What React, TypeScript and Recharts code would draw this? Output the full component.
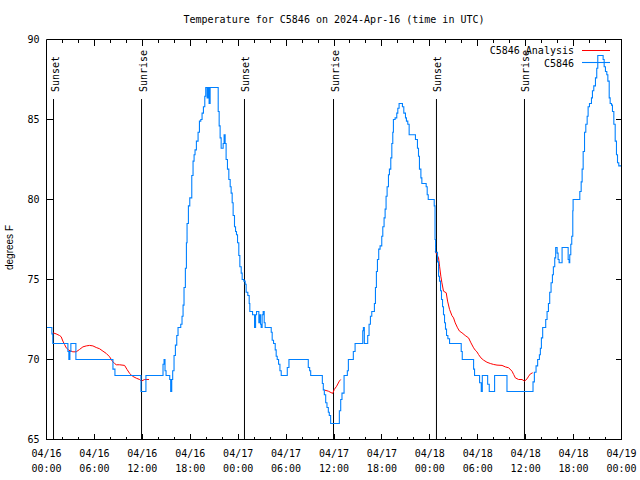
import React from 'react';
import { LineChart, Line, XAxis, YAxis, ReferenceLine } from 'recharts';

const MONO = '"DejaVu Sans Mono", "Liberation Mono", monospace';
const SANS = '"Liberation Sans", Arial, sans-serif';
const BLUE = '#0080ff';
const RED = '#ff0000';

const TITLE = 'Temperature for C5846 on 2024-Apr-16 (time in UTC)';
const Y_LABEL = 'degrees F';
const SERIES_NAMES = ['C5846 Analysis', 'C5846'];

// hours since 04/16 00:00 UTC
const xTickHours = [0, 2, 4, 6, 8, 10, 12, 14, 16, 18, 20, 22, 24, 26, 28, 30, 32, 34, 36, 38, 40, 42, 44, 46, 48, 50, 52, 54, 56, 58, 60, 62, 64, 66, 68, 70, 72];
const xLabelDates = ['04/16', '04/16', '04/16', '04/16', '04/17', '04/17', '04/17', '04/17', '04/18', '04/18', '04/18', '04/18', '04/19'];
const xLabelTimes = ['00:00', '06:00', '12:00', '18:00', '00:00', '06:00', '12:00', '18:00', '00:00', '06:00', '12:00', '18:00', '00:00'];
const yTicks = [65, 70, 75, 80, 85, 90];

const sunHours = [0.88, 11.9, 24.79, 35.94, 48.83, 59.85];
const sunLabels = ['Sunset', 'Sunrise', 'Sunset', 'Sunrise', 'Sunset', 'Sunrise'];

// C5846 observations [hour, degF]
const observed: [number, number][] = [
  [0, 72], [0.67, 71.6], [0.79, 71], [2.68, 70.5], [2.8, 70], [2.93, 70.5], [3.05, 71], [3.68, 70],
  [8.32, 69.4], [8.57, 69], [11.83, 68], [12.45, 69],
  [14.59, 69.7], [14.72, 70], [14.84, 69.3], [14.97, 69], [15.43, 68.75], [15.55, 68], [15.68, 68.75], [15.8, 69.3],
  [15.97, 70.25], [16.14, 70.9], [16.31, 71.5], [16.47, 72], [16.81, 72.2], [16.97, 72.7], [17.1, 73.4], [17.22, 74.5],
  [17.39, 75.7], [17.52, 77.3], [17.6, 78.5], [17.77, 79.6], [17.94, 80.1], [18.19, 81.5], [18.35, 82.4], [18.48, 82.8],
  [18.6, 83.1], [18.77, 83.65], [18.98, 84.2], [19.15, 84.9], [19.32, 85], [19.48, 85.4], [19.65, 85.8], [19.82, 86.45],
  [19.94, 87], [20.11, 86.35], [20.24, 87], [20.36, 86], [20.49, 87], [21.5, 85.5], [21.62, 84.6], [21.74, 83.85],
  [21.87, 83.2], [22.12, 83.5], [22.24, 84.05], [22.37, 83.5], [22.49, 82.5], [22.66, 81.9], [22.83, 81.25], [23.0, 80.8],
  [23.12, 80.4], [23.25, 79.8], [23.37, 79], [23.54, 78.3], [23.67, 78], [23.79, 77.8], [23.92, 77.3], [24.08, 76.5],
  [24.21, 75.8], [24.38, 75.4], [24.5, 75], [24.71, 74.9], [24.88, 74.7], [25.0, 74.2], [25.21, 74], [25.38, 73.5],
  [25.46, 73], [25.8, 72.8], [26.05, 72], [26.18, 72.8], [26.3, 73], [26.59, 72.3], [26.72, 72.8], [26.8, 72.2],
  [26.88, 72], [27.0, 72.8], [27.13, 73], [27.26, 72.3], [27.38, 72], [28.14, 71.7], [28.26, 71.2], [28.43, 71],
  [28.64, 70.6], [28.76, 70.2], [28.89, 70], [29.06, 69.7], [29.23, 69.3], [29.39, 69], [30.15, 69.5], [30.36, 70],
  [32.78, 69.5], [32.95, 69.3], [33.08, 69], [34.54, 68.5], [34.66, 68.1], [34.79, 67.8], [34.96, 67.3], [35.12, 67],
  [35.29, 66.7], [35.41, 66.5], [35.58, 66], [36.67, 66.8], [36.84, 67.5], [37.0, 67.9], [37.26, 69], [37.67, 69.3],
  [37.8, 70], [38.42, 70.5], [38.64, 71], [39.6, 71.8], [39.68, 72], [39.8, 71], [40.22, 71.5], [40.39, 72.2],
  [40.56, 72.7], [40.73, 73], [41.06, 73.5], [41.19, 74.5], [41.31, 75.5], [41.44, 76.25], [41.6, 76.9], [41.77, 77.1],
  [41.98, 77.7], [42.11, 78.3], [42.27, 78.85], [42.4, 79.4], [42.52, 80.2], [42.65, 80.8], [42.82, 81.55], [42.94, 81.9],
  [43.11, 82.6], [43.24, 83.5], [43.36, 84.2], [43.44, 85], [43.65, 85.1], [43.86, 85.4], [43.99, 85.7], [44.15, 86],
  [44.57, 85.8], [44.74, 85.4], [44.95, 85.1], [45.07, 84.9], [45.24, 84.7], [45.41, 84.05], [46.2, 83.75], [46.45, 83.2],
  [46.58, 82.7], [46.7, 81.9], [46.88, 81.35], [47.0, 81], [47.54, 80.8], [47.67, 80.3], [47.8, 80], [48.55, 79.6],
  [48.65, 77.5], [48.72, 76.7], [48.96, 76.1], [49.09, 75.2], [49.21, 74.9], [49.34, 74.3], [49.46, 73.75], [49.59, 73.3],
  [49.71, 72.8], [49.84, 72.3], [49.96, 71.9], [50.09, 71.5], [50.26, 71.3], [50.47, 71], [51.93, 70.5], [52.06, 70],
  [53.48, 69.4], [53.6, 69], [54.23, 68.55], [54.44, 68], [54.57, 69], [55.24, 68.45], [55.44, 68], [56.11, 69],
  [57.66, 68], [60.92, 68.6], [61.09, 69.2], [61.3, 69.6], [61.5, 70], [61.72, 70.3], [61.84, 70.7], [61.97, 71.35],
  [62.13, 72], [62.51, 72.5], [62.68, 73], [62.85, 73.5], [63.01, 74.2], [63.18, 74.8], [63.35, 75.3], [63.47, 75.8],
  [63.64, 76.35], [63.76, 77], [63.94, 76.65], [64.06, 76.25], [64.19, 76.05], [64.56, 77], [65.32, 76.25], [65.44, 76.05],
  [65.52, 76.55], [65.65, 77.2], [65.77, 77.7], [65.9, 79.3], [65.94, 80], [66.78, 80.5], [66.95, 81.1], [67.07, 81.9],
  [67.2, 83], [67.37, 84.2], [67.53, 84.7], [67.7, 85.2], [67.82, 85.8], [67.99, 86], [68.24, 86.35], [68.36, 86.8],
  [68.53, 87.1], [68.74, 87.6], [68.9, 88.2], [69.03, 89], [69.7, 88.75], [69.83, 88.3], [69.99, 88], [70.16, 87.8],
  [70.29, 87.4], [70.46, 86.35], [70.58, 86], [70.75, 85.9], [70.87, 85.5], [71.04, 84.7], [71.21, 83.65], [71.37, 82.8],
  [71.5, 82.3], [71.66, 82.1], [71.95, 82.1],
];

// C5846 Analysis, night segments [hour, degF]
const analysisNight1: [number, number][] = [
  [0.79, 71.67], [1.21, 71.6], [1.63, 71.5], [1.84, 71.42], [2.05, 71.15], [2.26, 70.94], [2.47, 70.73], [2.8, 70.58],
  [3.3, 70.48], [3.72, 70.48], [4.14, 70.63], [4.56, 70.79], [4.98, 70.85], [5.39, 70.88], [5.81, 70.85], [6.23, 70.75],
  [6.65, 70.67], [7.07, 70.52], [7.48, 70.38], [7.9, 70.17], [8.24, 69.9], [8.53, 69.75], [8.74, 69.67], [9.16, 69.67],
  [9.78, 69.63], [10.08, 69.38], [10.41, 69.13], [10.75, 68.96], [11.25, 68.83], [11.67, 68.75], [11.87, 68.65],
  [12.29, 68.75], [12.84, 68.75],
];
const analysisNight2: [number, number][] = [
  [34.87, 68.08], [35.29, 68.02], [35.83, 67.88], [36.04, 68.13], [36.33, 68.33], [36.67, 68.65], [36.84, 68.75],
];
const analysisNight3: [number, number][] = [
  [48.67, 76.77], [48.88, 76.56], [49.09, 76.35], [49.22, 75.83], [49.38, 75.2], [49.51, 74.8], [49.71, 74.27],
  [50.05, 74.17], [50.22, 73.65], [50.47, 73.13], [50.76, 72.75], [50.97, 72.6], [51.18, 72.29], [51.47, 71.98],
  [51.72, 71.77], [52.02, 71.67], [52.43, 71.5], [52.85, 71.35], [53.15, 71.04], [53.48, 70.73], [53.69, 70.58],
  [53.9, 70.48], [54.1, 70.31], [54.4, 70.1], [54.73, 69.96], [55.15, 69.83], [55.57, 69.75], [55.99, 69.69],
  [56.41, 69.65], [57.04, 69.63], [57.45, 69.54], [57.87, 69.48], [58.29, 69.27], [58.5, 69.06], [58.71, 68.85],
  [59.12, 68.75], [59.54, 68.75], [59.87, 68.65], [60.17, 68.79], [60.38, 68.96], [60.59, 69.1], [60.88, 69.17],
];

const toRows = (pts: [number, number][]) => pts.map(([h, t]) => ({ h, t }));

const BottomTick = (props: any) => {
  const { x, y, payload } = props;
  const h = payload.value as number;
  const major = h % 6 === 0;
  const i = h / 6;
  return (
    <g>
      <line x1={x} x2={x} y1={y} y2={y - (major ? 6 : 3)} stroke="#000" shapeRendering="crispEdges" />
      {major && (
        <>
          <text x={x} y={y + 17.5} textAnchor="middle" fontFamily={MONO} fontSize={10} fill="#000">{xLabelDates[i]}</text>
          <text x={x} y={y + 32.5} textAnchor="middle" fontFamily={MONO} fontSize={10} fill="#000">{xLabelTimes[i]}</text>
        </>
      )}
    </g>
  );
};

const TopTick = (props: any) => {
  const { x, y, payload } = props;
  const major = (payload.value as number) % 6 === 0;
  return <line x1={x} x2={x} y1={y} y2={y + (major ? 6 : 3)} stroke="#000" shapeRendering="crispEdges" />;
};

const LeftTick = (props: any) => {
  const { x, y, payload } = props;
  return (
    <g>
      <line x1={x} x2={x + 6} y1={y} y2={y} stroke="#000" shapeRendering="crispEdges" />
      <text x={x - 7} y={y + 3.6} textAnchor="end" fontFamily={MONO} fontSize={10} fill="#000">{payload.value}</text>
    </g>
  );
};

const RightTick = (props: any) => {
  const { x, y } = props;
  return <line x1={x} x2={x - 6} y1={y} y2={y} stroke="#000" shapeRendering="crispEdges" />;
};

const SunLabel = (props: any) => {
  const { viewBox, text } = props;
  const bx = viewBox.x + 5;
  const by = viewBox.y - 7;
  return (
    <text transform={`translate(${bx},${by}) rotate(-90)`} fontFamily={MONO} fontSize={10} fill="#000">{text}</text>
  );
};

export default function App() {
  const axisStroke = { stroke: '#000', strokeWidth: 1 };
  return (
    <div style={{ position: 'absolute', left: 0, top: 0, width: 640, height: 480, background: '#fff' }}>
      <LineChart width={640} height={480} margin={{ top: 29.5, right: 8.5, bottom: 5.5, left: 6.5 }}>
        <XAxis dataKey="h" type="number" domain={[0, 72]} ticks={xTickHours} interval={0} height={35}
          tickSize={0} tickMargin={0} tickLine={false} axisLine={axisStroke} tick={<BottomTick />} allowDataOverflow />
        <XAxis xAxisId="top" orientation="top" dataKey="h" type="number" domain={[0, 72]} ticks={xTickHours} interval={0}
          height={10} tickSize={0} tickMargin={0} tickLine={false} axisLine={axisStroke} tick={<TopTick />} allowDataOverflow />
        <YAxis type="number" domain={[65, 90]} ticks={yTicks} interval={0} width={40}
          tickSize={0} tickMargin={0} tickLine={false} axisLine={axisStroke} tick={<LeftTick />} allowDataOverflow />
        <YAxis yAxisId="r" orientation="right" type="number" domain={[65, 90]} ticks={yTicks} interval={0} width={10}
          tickSize={0} tickMargin={0} tickLine={false} axisLine={axisStroke} tick={<RightTick />} allowDataOverflow />
        {sunHours.map((h, i) => (
          <ReferenceLine key={`sun-${i}`} segment={[{ x: h, y: 86.28 }, { x: h, y: 65 }]} stroke="#000" strokeWidth={1}
            ifOverflow="visible" label={<SunLabel text={sunLabels[i]} />} />
        ))}
        <Line data={toRows(analysisNight1)} dataKey="t" type="linear" stroke={RED} strokeWidth={1} dot={false} activeDot={false} isAnimationActive={false} name={SERIES_NAMES[0]} />
        <Line data={toRows(analysisNight2)} dataKey="t" type="linear" stroke={RED} strokeWidth={1} dot={false} activeDot={false} isAnimationActive={false} name={SERIES_NAMES[0]} />
        <Line data={toRows(analysisNight3)} dataKey="t" type="linear" stroke={RED} strokeWidth={1} dot={false} activeDot={false} isAnimationActive={false} name={SERIES_NAMES[0]} />
        <Line data={toRows(observed)} dataKey="t" type="stepAfter" stroke={BLUE} strokeWidth={1.1} dot={false} activeDot={false} isAnimationActive={false} name={SERIES_NAMES[1]} />
      </LineChart>
      <svg width={640} height={480} style={{ position: 'absolute', left: 0, top: 0, pointerEvents: 'none' }}>
        <text x={334} y={23} textAnchor="middle" fontFamily={MONO} fontSize={10} fill="#000">{TITLE}</text>
        <text transform="translate(13,247.5) rotate(-90)" textAnchor="middle" fontFamily={SANS} fontSize={10} fill="#000">{Y_LABEL}</text>
        <text x={574} y={54} textAnchor="end" fontFamily={MONO} fontSize={10} fill="#000">{SERIES_NAMES[0]}</text>
        <line x1={582} x2={610} y1={50.5} y2={50.5} stroke={RED} strokeWidth={1} />
        <text x={574} y={66.5} textAnchor="end" fontFamily={MONO} fontSize={10} fill="#000">{SERIES_NAMES[1]}</text>
        <line x1={582} x2={610} y1={62.5} y2={62.5} stroke={BLUE} strokeWidth={1.1} />
      </svg>
    </div>
  );
}
